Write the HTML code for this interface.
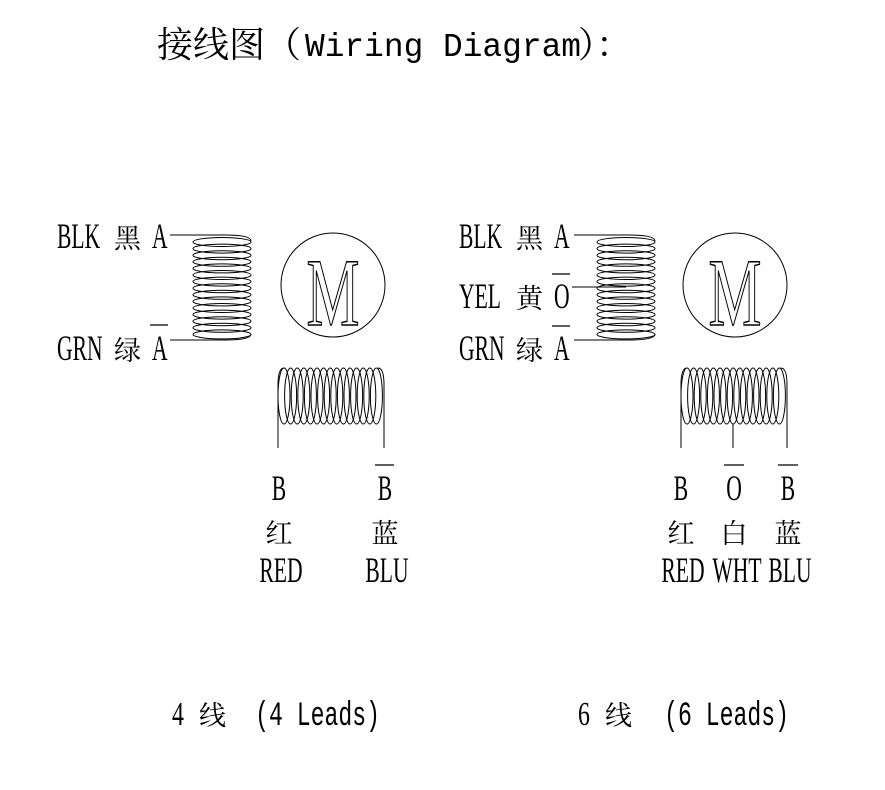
<!DOCTYPE html>
<html><head><meta charset="utf-8"><style>
html,body{margin:0;padding:0;background:#fff;width:885px;height:790px;overflow:hidden}
svg{display:block}
.t{font-family:"Liberation Serif","Noto Serif CJK SC",serif;fill:#000;font-size:36px}
.c{font-family:"Noto Serif CJK SC","Noto Sans CJK SC",serif;fill:#000;font-size:27px}
.cap{font-family:"Liberation Serif",serif;fill:#000;font-size:34px}
.capm{font-family:"Liberation Mono",monospace;fill:#000;font-size:34px}
</style></head><body>
<svg width="885" height="790" viewBox="0 0 885 790" xmlns="http://www.w3.org/2000/svg">
<text x="157" y="57" style="font-family:'Noto Serif CJK SC',serif;font-size:36px">接线图（</text>
<text x="305" y="56" textLength="276" lengthAdjust="spacingAndGlyphs" style="font-family:'Liberation Mono',monospace;font-size:33px">Wiring Diagram</text>
<text x="578" y="57" style="font-family:'Noto Serif CJK SC',serif;font-size:36px">）：</text>

<g fill="none" stroke="#000" stroke-width="1">
<g id="hc">
<ellipse cx="222" cy="242" rx="29" ry="4.5"/><ellipse cx="222" cy="248.6" rx="29" ry="4.5"/><ellipse cx="222" cy="255.2" rx="29" ry="4.5"/><ellipse cx="222" cy="261.8" rx="29" ry="4.5"/><ellipse cx="222" cy="268.4" rx="29" ry="4.5"/><ellipse cx="222" cy="275" rx="29" ry="4.5"/><ellipse cx="222" cy="281.6" rx="29" ry="4.5"/><ellipse cx="222" cy="288.2" rx="29" ry="4.5"/><ellipse cx="222" cy="294.8" rx="29" ry="4.5"/><ellipse cx="222" cy="301.4" rx="29" ry="4.5"/><ellipse cx="222" cy="308" rx="29" ry="4.5"/><ellipse cx="222" cy="314.6" rx="29" ry="4.5"/><ellipse cx="222" cy="321.2" rx="29" ry="4.5"/><ellipse cx="222" cy="327.8" rx="29" ry="4.5"/><ellipse cx="222" cy="334.4" rx="29" ry="4.5"/>
<path d="M170 235 H225 Q251 235 251 241"/>
<path d="M170 340 H225 Q251 340 251 334"/>
</g>
<g id="vc">
<ellipse cx="284" cy="396" rx="6" ry="28"/><ellipse cx="290.6" cy="396" rx="6" ry="28"/><ellipse cx="297.2" cy="396" rx="6" ry="28"/><ellipse cx="303.8" cy="396" rx="6" ry="28"/><ellipse cx="310.4" cy="396" rx="6" ry="28"/><ellipse cx="317" cy="396" rx="6" ry="28"/><ellipse cx="323.6" cy="396" rx="6" ry="28"/><ellipse cx="330.2" cy="396" rx="6" ry="28"/><ellipse cx="336.8" cy="396" rx="6" ry="28"/><ellipse cx="343.4" cy="396" rx="6" ry="28"/><ellipse cx="350" cy="396" rx="6" ry="28"/><ellipse cx="356.6" cy="396" rx="6" ry="28"/><ellipse cx="363.2" cy="396" rx="6" ry="28"/><ellipse cx="369.8" cy="396" rx="6" ry="28"/><ellipse cx="376.4" cy="396" rx="6" ry="28"/>
<path d="M278 448 V385 Q278 368 284 368"/>
<path d="M384 448 V385 Q384 368 378 368"/>
</g>
<circle cx="333" cy="285" r="52"/>
<use href="#hc" transform="translate(404,0)"/>
<line x1="572" y1="287" x2="626" y2="287"/>
<use href="#vc" transform="translate(403,0)"/>
<line x1="733" y1="424" x2="733" y2="448"/>
<circle cx="735" cy="285" r="52"/>
</g>

<text transform="translate(333,325) scale(0.62,1)" font-size="96" text-anchor="middle" fill="#fff" stroke="#000" stroke-width="1.5" style="font-family:'Liberation Serif',serif">M</text>
<text transform="translate(735,325) scale(0.62,1)" font-size="96" text-anchor="middle" fill="#fff" stroke="#000" stroke-width="1.5" style="font-family:'Liberation Serif',serif">M</text>

<text class="t" transform="translate(57,248) scale(0.6,1)">BLK</text>
<text class="c" x="114" y="248">黑</text>
<text class="t" transform="translate(152,248) scale(0.6,1)">A</text>
<text class="t" transform="translate(57,360) scale(0.6,1)">GRN</text>
<text class="c" x="114" y="360">绿</text>
<text class="t" transform="translate(152,360) scale(0.6,1)">A</text>
<text class="t" transform="translate(459,248) scale(0.6,1)">BLK</text>
<text class="c" x="516" y="248">黑</text>
<text class="t" transform="translate(554,248) scale(0.6,1)">A</text>
<text class="t" transform="translate(459,308) scale(0.6,1)">YEL</text>
<text class="c" x="516" y="308">黄</text>
<text class="t" transform="translate(554,308) scale(0.6,1)">O</text>
<text class="t" transform="translate(459,360) scale(0.6,1)">GRN</text>
<text class="c" x="516" y="360">绿</text>
<text class="t" transform="translate(554,360) scale(0.6,1)">A</text>

<text class="t" text-anchor="middle" transform="translate(279,500) scale(0.6,1)">B</text>
<text class="t" text-anchor="middle" transform="translate(385,500) scale(0.6,1)">B</text>
<text class="c" x="279" y="543" text-anchor="middle">红</text>
<text class="c" x="385" y="543" text-anchor="middle">蓝</text>
<text class="t" text-anchor="middle" transform="translate(281,582) scale(0.6,1)">RED</text>
<text class="t" text-anchor="middle" transform="translate(387,582) scale(0.6,1)">BLU</text>
<text class="t" text-anchor="middle" transform="translate(681,500) scale(0.6,1)">B</text>
<text class="t" text-anchor="middle" transform="translate(734,500) scale(0.6,1)">O</text>
<text class="t" text-anchor="middle" transform="translate(788,500) scale(0.6,1)">B</text>
<text class="c" x="681" y="543" text-anchor="middle">红</text>
<text class="c" x="734" y="543" text-anchor="middle">白</text>
<text class="c" x="788" y="543" text-anchor="middle">蓝</text>
<text class="t" text-anchor="middle" transform="translate(683,582) scale(0.6,1)">RED</text>
<text class="t" text-anchor="middle" transform="translate(737,582) scale(0.6,1)">WHT</text>
<text class="t" text-anchor="middle" transform="translate(790,582) scale(0.6,1)">BLU</text>

<text class="cap" transform="translate(172,725) scale(0.7,1)">4</text>
<text class="c" x="199" y="725">线</text>
<text class="capm" text-anchor="end" transform="translate(380,725) scale(0.68,1)">(4 Leads)</text>
<text class="cap" transform="translate(578,725) scale(0.7,1)">6</text>
<text class="c" x="605" y="725">线</text>
<text class="capm" text-anchor="end" transform="translate(789,725) scale(0.68,1)">(6 Leads)</text>

<g stroke="#000" stroke-width="1.2">
<line x1="150" y1="325" x2="168" y2="325"/>
<line x1="552" y1="274" x2="570" y2="274"/>
<line x1="552" y1="326" x2="570" y2="326"/>
<line x1="375" y1="465" x2="394" y2="465"/>
<line x1="724" y1="465" x2="744" y2="465"/>
<line x1="778" y1="465" x2="798" y2="465"/>
</g>
</svg>
</body></html>
